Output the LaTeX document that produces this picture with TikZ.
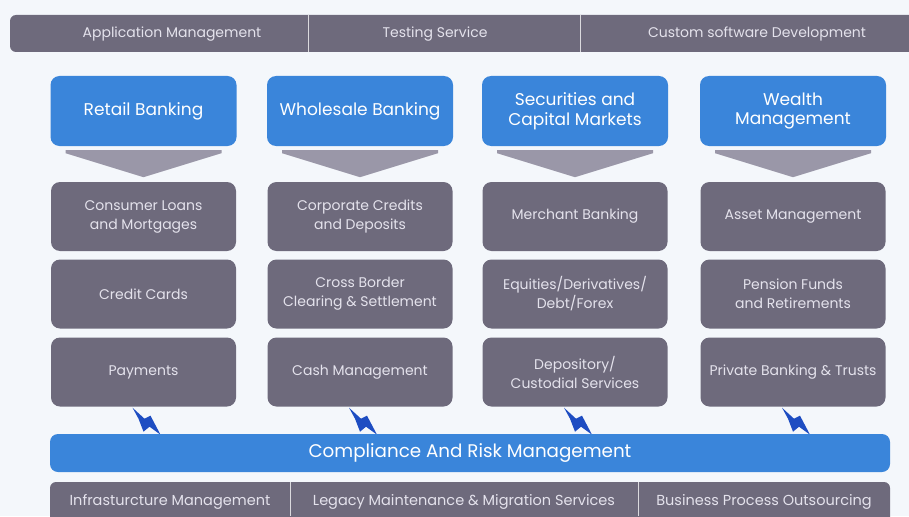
\documentclass[tikz,border=0pt]{standalone}
\usepackage{fontspec}
\setmainfont{Poppins}
\definecolor{pagebg}{HTML}{F4F7FB}
\definecolor{slate}{HTML}{6E6A7C}
\definecolor{slatelight}{HTML}{9A97A8}
\definecolor{azure}{HTML}{3A85DA}
\definecolor{bolt}{HTML}{1E4DC2}
\definecolor{pale}{HTML}{E4E2EC}
\tikzset{
  domainbox/.style={fill=azure, rounded corners=9pt, minimum width=186pt, minimum height=70pt,
    inner sep=0pt, text=white, align=center, font=\fontsize{17}{19.5}\selectfont},
  servicebox/.style={fill=slate, rounded corners=9pt, minimum width=185pt, minimum height=69pt,
    inner sep=0pt, text=pale, align=center, font=\fontsize{14}{19}\selectfont},
  bartext/.style={text=pale, inner sep=0pt, font=\fontsize{14}{16}\selectfont},
  divider/.style={draw=white!75!slate, line width=0.8pt},
  chevronfill/.style={fill=slatelight},
  boltfill/.style={fill=bolt}
}
\begin{document}
\begin{tikzpicture}[x=1pt,y=-1pt]
\useasboundingbox (0,0) rectangle (909,516);
\clip (0,0) rectangle (909,516);
\fill[pagebg] (0,0) rectangle (909,516);

% service bar along the top
\fill[slate, rounded corners=6pt] (10,15) rectangle (940,52);
\node[bartext] (appmgmt) at (172,34) {Application Management};
\node[bartext] (testing) at (435,34) {Testing Service};
\node[bartext] (custom) at (757,34) {Custom software Development};
\coordinate (t1a) at (308,15); \coordinate (t1b) at (308,52);
\coordinate (t2a) at (580,15); \coordinate (t2b) at (580,52);
\draw[divider] (t1a) -- (t1b);
\draw[divider] (t2a) -- (t2b);

% business domains
\node[domainbox] (retail) at (143.5,111) {Retail Banking};
\node[domainbox] (wholesale) at (360,111) {Wholesale Banking};
\node[domainbox] (securities) at (575,111) {Securities and\\Capital Markets};
\node[domainbox] (wealth) at (793,111) {Wealth\\Management};

% chevrons under each domain
\foreach \d in {retail,wholesale,securities,wealth}{
  \fill[chevronfill] ([xshift=-78pt,yshift=-4pt]\d.south) -- ([xshift=78pt,yshift=-4pt]\d.south)
    -- ([xshift=78pt,yshift=-7pt]\d.south) -- ([yshift=-31pt]\d.south)
    -- ([xshift=-78pt,yshift=-7pt]\d.south) -- cycle;
}

% services per domain
\node[servicebox] (loans) at (143.5,216.5) {Consumer Loans\\and Mortgages};
\node[servicebox] (cards) at (143.5,294) {Credit Cards};
\node[servicebox] (payments) at (143.5,372) {Payments};

\node[servicebox] (corporate) at (360,216.5) {Corporate Credits\\and Deposits};
\node[servicebox] (crossborder) at (360,294) {Cross Border\\Clearing \& Settlement};
\node[servicebox] (cash) at (360,372) {Cash Management};

\node[servicebox] (merchant) at (575,216.5) {Merchant Banking};
\node[servicebox] (equities) at (575,294) {Equities/Derivatives/\\Debt/Forex};
\node[servicebox] (depository) at (575,372) {Depository/\\Custodial Services};

\node[servicebox] (asset) at (793,216.5) {Asset Management};
\node[servicebox] (pension) at (793,294) {Pension Funds\\and Retirements};
\node[servicebox] (private) at (793,372) {Private Banking \& Trusts};

% lightning bolts linking the bottom row to compliance
\foreach \s in {payments,cash,depository,private}{
  \begin{scope}[shift={([xshift=-11pt,yshift=-1pt]\s.south)}]
    \fill[boltfill] (0,0) -- (12,11) -- (18,8) -- (28,27) -- (17,19) -- (11,24) -- (6,11) -- cycle;
  \end{scope}
}

% compliance layer
\node[fill=azure, rounded corners=8pt, minimum width=840pt, minimum height=38pt, inner sep=0pt,
  text=white, font=\fontsize{18.3}{20}\selectfont] (compliance) at (470,453) {Compliance And Risk Management};

% infrastructure bar along the bottom
\fill[slate, rounded corners=6pt] (50,482) rectangle (890,540);
\node[bartext, font=\fontsize{14.5}{16}\selectfont] (infra) at (170,502) {Infrasturcture Management};
\node[bartext, font=\fontsize{14.5}{16}\selectfont] (legacy) at (464,502) {Legacy Maintenance \& Migration Services};
\node[bartext, font=\fontsize{14.5}{16}\selectfont] (bpo) at (764,502) {Business Process Outsourcing};
\coordinate (b1a) at (290,482); \coordinate (b1b) at (290,516);
\coordinate (b2a) at (638,482); \coordinate (b2b) at (638,516);
\draw[divider] (b1a) -- (b1b);
\draw[divider] (b2a) -- (b2b);
\end{tikzpicture}
\end{document}
